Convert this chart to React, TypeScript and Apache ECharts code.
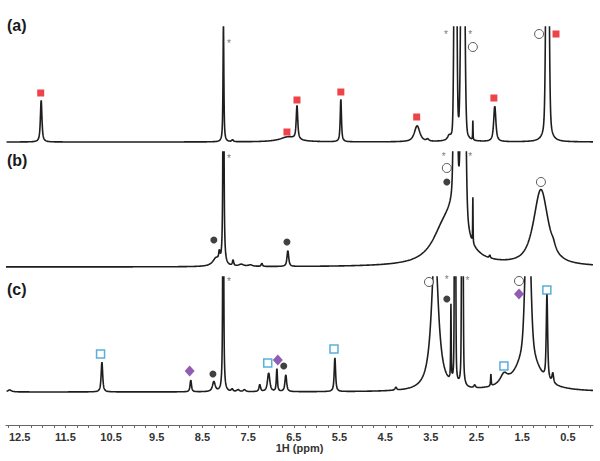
import React, { useEffect, useRef } from "react";
import * as echarts from "echarts";

// [centre ppm, height (panel units), half-width (ppm), lorentzian fraction]
type Peak = [number, number, number, number];

const X_MIN = -0.05;
const X_MAX = 12.8;
const STEP = 0.002;

const tickLabelValues = [12.5, 11.5, 10.5, 9.5, 8.5, 7.5, 6.5, 5.5, 4.5, 3.5, 2.5, 1.5, 0.5];

const peaksA: Peak[] = [
  [12.03, 42, 0.02, 0.8],
  [8.04, 118, 0.011, 0.8],
  [7.84, 2, 0.02, 0.8],
  [6.62, 5, 0.22, 1],
  [6.43, 34, 0.02, 0.8],
  [5.47, 43, 0.016, 0.8],
  [3.8, 16, 0.07, 0.8],
  [3.57, 2, 0.03, 0.8],
  [3.1, 4, 0.04, 0.8],
  [2.962, 460, 0.026, 0.15],
  [2.8, 500, 0.035, 0.15],
  [2.58, 19, 0.005, 0.5],
  [2.1, 36, 0.028, 0.8],
  [0.947, 470, 0.03, 0.3],
];

const peaksB: Peak[] = [
  [8.2, 8, 0.09, 1],
  [8.13, 9, 0.015, 0.8],
  [8.04, 320, 0.011, 0.8],
  [7.83, 6, 0.015, 0.8],
  [7.65, 2, 0.06, 1],
  [7.45, 1.5, 0.06, 1],
  [7.2, 3.5, 0.015, 0.8],
  [6.63, 16, 0.022, 0.8],
  [3.25, 22, 0.3, 1],
  [2.98, 42, 0.28, 1],
  [2.962, 500, 0.03, 0.3],
  [2.79, 500, 0.04, 0.3],
  [2.58, 45, 0.005, 0.5],
  [2.21, 3, 0.012, 0.8],
  [1.09, 76, 0.19, 0.8],
  [0.82, 4, 0.05, 0.8],
];

const peaksC: Peak[] = [
  [12.72, 2, 0.05, 1],
  [10.7, 30, 0.02, 0.8],
  [8.755, 12, 0.018, 0.8],
  [8.25, 10, 0.035, 0.8],
  [8.045, 400, 0.009, 0.8],
  [7.85, 2.5, 0.02, 0.8],
  [7.72, 2, 0.03, 0.8],
  [7.58, 2, 0.03, 0.8],
  [7.245, 7, 0.02, 0.8],
  [7.05, 19, 0.03, 0.8],
  [6.87, 23, 0.014, 0.8],
  [6.675, 17, 0.022, 0.8],
  [5.6, 34, 0.018, 0.8],
  [4.265, 3, 0.02, 0.8],
  [3.41, 145, 0.09, 1],
  [3.06, 75, 0.007, 0.8],
  [2.97, 500, 0.012, 0.3],
  [2.81, 500, 0.014, 0.3],
  [2.54, 3, 0.02, 0.8],
  [2.185, 12, 0.008, 0.8],
  [1.9, 10, 0.1, 1],
  [1.38, 45, 0.25, 1],
  [1.375, 170, 0.06, 0.25],
  [0.958, 85, 0.018, 0.7],
  [0.83, 10, 0.02, 0.8],
];

// marker positions [ppm, height above baseline]
const redSquaresA = [[12.04, 49], [6.65, 10], [6.43, 42], [5.47, 50], [3.81, 25], [2.12, 44], [0.76, 108]];
const openCirclesA = [[2.58, 95], [1.13, 108]];
const asterisksA = [[7.92, 99], [3.17, 108], [2.64, 108]];

const blackDotsB = [[8.25, 27], [6.65, 25], [3.15, 85]];
const openCirclesB = [[3.15, 99], [1.09, 85]];
const asterisksB = [[7.92, 109], [3.22, 111], [2.64, 111]];

const blueSquaresC = [[10.73, 38], [7.07, 29], [5.62, 43], [1.9, 26], [0.96, 102]];
const diamondsC = [[8.78, 21], [6.85, 32], [1.57, 98]];
const blackDotsC = [[8.27, 18], [6.72, 26], [3.15, 93]];
const openCirclesC = [[3.54, 110], [1.57, 111]];
const asterisksC = [[7.92, 111], [3.15, 113], [2.7, 112]];

const panelLabels = ["(a)", "(b)", "(c)"];

function buildSpectrum(peaks: Peak[]): number[][] {
  const out: number[][] = [];
  const n = Math.round((X_MAX - X_MIN) / STEP);
  for (let i = 0; i <= n; i++) {
    const x = X_MIN + i * STEP;
    let y = 0;
    for (const [c, h, w, eta] of peaks) {
      const t = (x - c) / w;
      const t2 = t * t;
      y += h * (eta / (1 + t2) + (1 - eta) * Math.exp(-Math.LN2 * t2));
    }
    out.push([x, y]);
  }
  return out;
}

const FONT = '"Liberation Sans", Arial, sans-serif';

export default function App() {
  const ref = useRef<HTMLDivElement>(null);
  useEffect(() => {
    if (!ref.current) return;
    const chart = echarts.init(ref.current, undefined, { renderer: "svg" });

    const grids = [
      { left: 6, right: 7, top: 27, height: 121 },
      { left: 6, right: 7, top: 152, height: 121 },
      { left: 6, right: 7, top: 277, height: 148 },
    ];
    const yMins = [-6, -6, -33];

    const minorTicks: number[] = [];
    for (let v = 0; v <= 12.76; v += 0.25) minorTicks.push(Math.round(v * 100) / 100);

    const xAxes: any[] = [0, 1, 2].map((i) => ({
      type: "value",
      gridIndex: i,
      min: X_MIN,
      max: X_MAX,
      inverse: true,
      show: i === 2,
      position: "bottom",
      splitLine: { show: false },
      axisLine: { show: true, onZero: false, lineStyle: { color: "#666", width: 1 } },
      axisTick: { show: true, customValues: minorTicks, length: 3, lineStyle: { color: "#666" } },
      axisLabel: {
        customValues: tickLabelValues,
        formatter: (v: number) => v.toFixed(1),
        fontFamily: FONT,
        fontWeight: "bold",
        fontSize: 11,
        color: "#333",
        margin: 6,
      },
      name: i === 2 ? "1H (ppm)" : "",
      nameLocation: "middle",
      nameGap: 17,
      nameTextStyle: { fontFamily: FONT, fontWeight: "bold", fontSize: 11, color: "#333" },
    }));

    const yAxes: any[] = [0, 1, 2].map((i) => ({
      type: "value",
      gridIndex: i,
      min: yMins[i],
      max: 115,
      show: false,
      splitLine: { show: false },
    }));

    const lineSeries = [peaksA, peaksB, peaksC].map((p, i) => ({
      type: "line",
      xAxisIndex: i,
      yAxisIndex: i,
      data: buildSpectrum(p),
      showSymbol: false,
      symbol: "none",
      clip: true,
      silent: true,
      lineStyle: { color: "#1e1e1e", width: 1.6 },
    }));

    const scatter = (idx: number, data: number[][], opts: any) => ({
      type: "scatter",
      xAxisIndex: idx,
      yAxisIndex: idx,
      data,
      clip: false,
      silent: true,
      z: 5,
      ...opts,
    });

    const redSq = { symbol: "rect", symbolSize: 7, itemStyle: { color: "#e8141c" } };
    const openCirc = {
      symbol: "circle",
      symbolSize: 9,
      itemStyle: { color: "#ffffff", borderColor: "#333", borderWidth: 1 },
    };
    const blackDot = { symbol: "circle", symbolSize: 7, itemStyle: { color: "#111" } };
    const diamond = { symbol: "diamond", symbolSize: [10, 11], itemStyle: { color: "#7434a0" } };
    const blueSq = {
      symbol: "rect",
      symbolSize: 8,
      itemStyle: { color: "#ffffff", borderColor: "#2f9bd0", borderWidth: 1.5 },
    };
    const star = {
      symbol: "circle",
      symbolSize: 1,
      itemStyle: { color: "rgba(0,0,0,0)" },
      label: {
        show: true,
        formatter: "*",
        position: "inside",
        fontSize: 10,
        fontFamily: FONT,
        color: "#555",
      },
    };

    const markerSeries = [
      scatter(0, redSquaresA, redSq),
      scatter(0, openCirclesA, openCirc),
      scatter(0, asterisksA, star),
      scatter(1, blackDotsB, blackDot),
      scatter(1, openCirclesB, openCirc),
      scatter(1, asterisksB, star),
      scatter(2, blueSquaresC, blueSq),
      scatter(2, diamondsC, diamond),
      scatter(2, blackDotsC, blackDot),
      scatter(2, openCirclesC, openCirc),
      scatter(2, asterisksC, star),
    ];

    const labelTops = [17, 152, 281];
    const graphic = panelLabels.map((t, i) => ({
      type: "text",
      left: 7,
      top: labelTops[i],
      style: {
        text: t,
        fontFamily: FONT,
        fontWeight: "bold",
        fontSize: 16,
        fill: "#1a1a1a",
      },
    }));

    chart.setOption({
      animation: false,
      backgroundColor: "#ffffff",
      grid: grids,
      xAxis: xAxes,
      yAxis: yAxes,
      series: [...lineSeries, ...markerSeries],
      graphic,
    });
    return () => chart.dispose();
  }, []);
  return (
    <div
      ref={ref}
      style={{ position: "absolute", left: 0, top: 0, width: 600, height: 461, background: "#fff" }}
    />
  );
}
